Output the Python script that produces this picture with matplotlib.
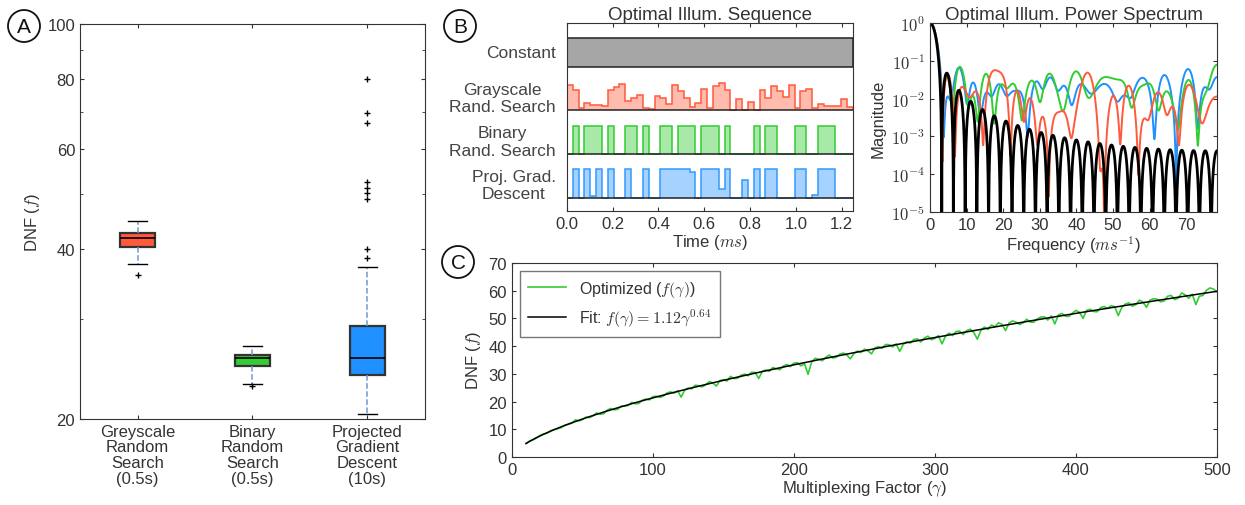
import numpy as np
import matplotlib
matplotlib.use("Agg")
import matplotlib.pyplot as plt
from matplotlib.patches import Circle
from matplotlib.ticker import FixedLocator, NullFormatter, FuncFormatter, LogLocator

plt.rcParams["font.family"] = ["Liberation Sans", "DejaVu Sans"]
plt.rcParams["mathtext.fontset"] = "cm"
plt.rcParams["font.size"] = 12
plt.rcParams["text.color"] = "#333333"
plt.rcParams["axes.labelcolor"] = "#333333"
plt.rcParams["xtick.color"] = "#333333"
plt.rcParams["ytick.color"] = "#333333"
plt.rcParams["axes.edgecolor"] = "#333333"

# ---- Panel A: box plot stats (DNF) ----
box_labels = ["Greyscale\nRandom\nSearch\n(0.5s)", "Binary\nRandom\nSearch\n(0.5s)",
              "Projected\nGradient\nDescent\n(10s)"]
box_med = [41.8, 25.6, 25.6]
box_q1 = [40.3, 24.8, 23.95]
box_q3 = [42.7, 26.0, 29.2]
box_lo = [37.6, 23.1, 20.4]
box_hi = [44.8, 26.9, 37.1]
box_fliers = [[36.0], [22.9], [79.8, 69.5, 66.7, 52.5, 51.3, 50.2, 49.0, 40.0, 38.6]]
box_colors = ["#ff5a3c", "#33cc33", "#1e90ff"]

# ---- Panel B: illumination sequences (49 bins over 1.25 ms) ----
seq_duration = 1.25
seq_names = ["Proj. Grad.\nDescent", "Binary\nRand. Search", "Grayscale\nRand. Search", "Constant"]
seq_constant = [1.0] * 49
seq_gray = [0.91, 0.72, 0.09, 0.27, 0.19, 0.19, 0.14, 0.72, 0.82, 0.94,
            0.33, 0.44, 0.54, 0.09, 0.06, 0.50, 0.44, 0.23, 0.89, 0.68,
            0.44, 0.13, 0.27, 0.77, 0.09, 0.85, 0.96, 0.72, 0.0, 0.42,
            0.0, 0.30, 0.0, 0.72, 0.44, 0.85, 0.70, 0.47, 0.89, 0.09,
            0.68, 0.75, 0.09, 0.23, 0.15, 0.14, 0.15, 0.41, 0.12]
seq_binary = [0, 1, 0, 1, 1, 1, 0, 1, 0, 0,
              1, 1, 0, 1, 0, 0, 1, 1, 0, 1,
              1, 1, 0, 1, 1, 1, 0, 1, 0, 0,
              0, 0, 1, 0, 1, 1, 0, 0, 0, 1,
              1, 0, 0, 1, 1, 1, 0, 0, 0]
seq_pgd = [0, 1, 0, 1, 0.05, 1, 0, 1, 0, 0,
           1, 0, 0, 1, 0, 0, 1, 1, 1, 1,
           1, 0.92, 0, 1, 1, 1, 0.33, 1, 0, 0,
           0.63, 0, 1, 0, 1, 1, 0, 0, 0, 1,
           1, 0, 0.09, 1, 1, 1, 0, 0, 0]
seq_fill = ["#a6d2ff", "#a8e8a8", "#ffbcae", "#a6a6a6"]
seq_edge = ["#3399ff", "#33cc33", "#ff5a3c", "#222222"]
spec_colors = ["#1e90ff", "#33cc33", "#ff5a3c", "black"]
freq_max = 78.4

# ---- Panel C: DNF vs multiplexing factor (gamma = 10, 12.5, ..., 500) ----
gamma = np.arange(10, 500.01, 2.5)
dnf_opt = [4.8, 5.7, 6.2, 6.9, 7.8, 8.3, 8.6, 9.5, 9.9, 10.2,
           10.6, 11.5, 11.8, 12.2, 13.4, 13.0, 13.5, 14.4, 14.2, 14.8,
           15.9, 15.4, 15.6, 16.9, 17.5, 17.0, 17.2, 18.4, 18.3, 18.6,
           19.7, 19.2, 19.3, 20.5, 20.9, 20.6, 21.8, 21.9, 21.5, 22.0,
           23.1, 23.5, 23.0, 23.9, 21.6, 24.1, 24.9, 24.6, 25.9, 25.7,
           25.3, 26.1, 27.2, 26.7, 25.6, 27.6, 27.9, 27.4, 29.1, 28.3,
           28.4, 29.5, 29.9, 29.3, 30.6, 30.5, 28.3, 30.9, 31.4, 30.9,
           32.3, 31.8, 31.5, 32.8, 33.4, 32.6, 33.9, 34.0, 32.9, 33.6,
           29.8, 34.2, 35.6, 35.3, 34.7, 35.9, 36.8, 35.7, 36.0, 37.1,
           37.5, 36.8, 35.4, 37.3, 38.2, 37.7, 38.9, 38.3, 37.2, 39.4,
           39.8, 39.2, 40.6, 40.5, 39.7, 40.8, 38.1, 40.6, 41.6, 41.1,
           42.4, 42.6, 41.5, 42.9, 43.6, 42.3, 42.8, 43.8, 40.8, 43.6,
           44.7, 43.8, 45.3, 45.4, 44.2, 45.6, 46.1, 45.0, 42.5, 45.6,
           46.9, 46.0, 47.6, 47.0, 48.4, 47.9, 45.6, 48.3, 49.1, 48.6,
           47.8, 48.4, 49.7, 48.7, 48.6, 49.8, 50.5, 50.6, 49.4, 50.9,
           48.0, 51.2, 51.8, 50.8, 50.7, 51.9, 52.9, 52.2, 50.0, 52.9,
           53.3, 52.5, 52.4, 53.9, 54.3, 53.6, 54.6, 54.2, 51.0, 54.0,
           55.2, 55.6, 54.4, 55.0, 56.6, 55.9, 54.0, 56.6, 57.1, 56.9,
           56.0, 56.3, 58.0, 58.3, 56.8, 57.3, 59.2, 58.5, 57.3, 58.7,
           55.0, 58.0, 58.3, 60.1, 61.0, 60.6, 59.6]
fit_a = 1.12
fit_b = 0.64

fig = plt.figure(figsize=(12.45, 5.06), dpi=100)

# ---------------- Panel A ----------------
axA = fig.add_axes([0.0643, 0.170, 0.277, 0.7806])
stats = []
for i in range(3):
    stats.append(dict(med=box_med[i], q1=box_q1[i], q3=box_q3[i],
                      whislo=box_lo[i], whishi=box_hi[i], fliers=box_fliers[i]))
bp = axA.bxp(stats, positions=[1, 2, 3], widths=0.3, patch_artist=True,
             boxprops=dict(edgecolor="#333333", linewidth=1.6),
             medianprops=dict(color="black", linewidth=1.2),
             whiskerprops=dict(color="#6f9ad6", linestyle="--", linewidth=1.1),
             capprops=dict(color="black", linewidth=1.0),
             flierprops=dict(marker="+", markeredgecolor="black", markersize=5, linestyle="none"))
for patch, c in zip(bp["boxes"], box_colors):
    patch.set_facecolor(c)
for cap in bp["caps"]:
    mid = cap.get_xdata().mean()
    cap.set_xdata([mid - 0.08, mid + 0.08])
axA.set_yscale("log")
axA.set_ylim(20, 100)
axA.set_xlim(0.5, 3.5)
axA.yaxis.set_major_locator(FixedLocator([20, 40, 60, 80, 100]))
axA.yaxis.set_major_formatter(FuncFormatter(lambda v, p: "%d" % v))
axA.yaxis.set_minor_locator(FixedLocator([30, 50, 70, 90]))
axA.yaxis.set_minor_formatter(NullFormatter())
axA.set_xticks([1, 2, 3])
axA.set_xticklabels(box_labels, linespacing=1.05)
axA.tick_params(direction="in", top=True, right=True, length=3)
axA.tick_params(which="minor", direction="in", right=True, length=2)
axA.set_ylabel("DNF ($f$)")

# ---------------- Panel B left ----------------
axS = fig.add_axes([0.4554, 0.581, 0.2297, 0.3716])
n_bins = len(seq_constant)
edges = np.arange(n_bins + 1) * seq_duration / n_bins
scale = 0.65
all_seqs = [seq_pgd, seq_binary, seq_gray, seq_constant]
for k, vals in enumerate(all_seqs):
    v = k + scale * np.array(vals, dtype=float)
    axS.stairs(v, edges, baseline=k, fill=True, color=seq_fill[k], linewidth=0)
    axS.stairs(v, edges, baseline=k, color=seq_edge[k], linewidth=1.1)
    axS.axhline(k, color="#222222", linewidth=1.1)
axS.set_xlim(0, seq_duration)
axS.set_ylim(-0.3, 4.0)
axS.set_yticks([k + 0.35 for k in range(4)])
axS.set_yticklabels(seq_names, multialignment="center", color="#444444",
                    linespacing=1.2, fontsize=12.5)
axS.tick_params(axis="y", length=0, pad=8)
axS.set_xticks(np.arange(0, 1.21, 0.2))
axS.xaxis.set_major_formatter(FuncFormatter(lambda v, p: "%.1f" % v))
axS.tick_params(axis="x", direction="in", top=True, length=3)
axS.set_xlabel("Time ($ms$)", labelpad=1)
axS.set_title("Optimal Illum. Sequence", fontsize=13.5, pad=3)

# ---------------- Panel B right ----------------
axP = fig.add_axes([0.747, 0.579, 0.2305, 0.3736])
nfft = n_bins * 64
freqs = np.fft.rfftfreq(nfft) * 2 * freq_max
for k, vals in enumerate(all_seqs):
    X = np.fft.rfft(np.array(vals, dtype=float), n=nfft)
    p = np.abs(X) ** 2
    p = np.clip(p / p[0], 1e-12, None)
    axP.plot(freqs, p, color=spec_colors[k], linewidth=2.0 if k == 3 else 1.4)
axP.set_yscale("log")
axP.set_ylim(1e-5, 1)
axP.set_xlim(0, freq_max)
axP.set_xticks(np.arange(0, 71, 10))
axP.yaxis.set_major_locator(FixedLocator([1e-5, 1e-4, 1e-3, 1e-2, 1e-1, 1]))
axP.yaxis.set_major_formatter(FuncFormatter(lambda v, p: r"$\mathsf{10^{%d}}$" % round(np.log10(v))))
axP.yaxis.set_minor_locator(LogLocator(base=10, subs=np.arange(2, 10)))
axP.yaxis.set_minor_formatter(NullFormatter())
axP.tick_params(direction="in", top=True, right=True, length=3)
axP.tick_params(which="minor", direction="in", right=True, length=2)
axP.set_xlabel("Frequency ($ms^{-1}$)", labelpad=1)
axP.set_ylabel("Magnitude")
axP.set_title("Optimal Illum. Power Spectrum", fontsize=13.5, pad=3)

# ---------------- Panel C ----------------
axC = fig.add_axes([0.4112, 0.0949, 0.5663, 0.3834])
axC.plot(gamma, dnf_opt, color="#33cc33", linewidth=1.2, label=r"Optimized ($f(\gamma)$)")
axC.plot(gamma, fit_a * gamma ** fit_b, color="black", linewidth=1.1,
         label=r"Fit: $f(\gamma) = 1.12\gamma^{0.64}$")
axC.set_xlim(0, 500)
axC.set_ylim(0, 70)
axC.set_xticks(np.arange(0, 501, 100))
axC.set_yticks(np.arange(0, 71, 10))
axC.tick_params(direction="in", top=True, right=True, length=3)
axC.set_xlabel(r"Multiplexing Factor ($\gamma$)", labelpad=1)
axC.set_ylabel("DNF ($f$)")
leg = axC.legend(loc="upper left", fancybox=False, edgecolor="#555555", handlelength=2.4,
                 borderpad=0.5, fontsize=11.5)
leg.get_frame().set_linewidth(1.0)

# ---------------- Panel letters ----------------
for letter, cx, cy in [("A", 24, 27), ("B", 460, 27), ("C", 458, 263)]:
    xi, yi = cx / 100.0, (506 - cy) / 100.0
    fig.patches.append(Circle((xi, yi), 0.16, transform=fig.dpi_scale_trans,
                              facecolor="none", edgecolor="#111111", linewidth=1.3))
    fig.text(xi, yi - 0.01, letter, transform=fig.dpi_scale_trans, ha="center", va="center",
             fontsize=15, color="#111111")

fig.savefig("out.png", dpi=100)
